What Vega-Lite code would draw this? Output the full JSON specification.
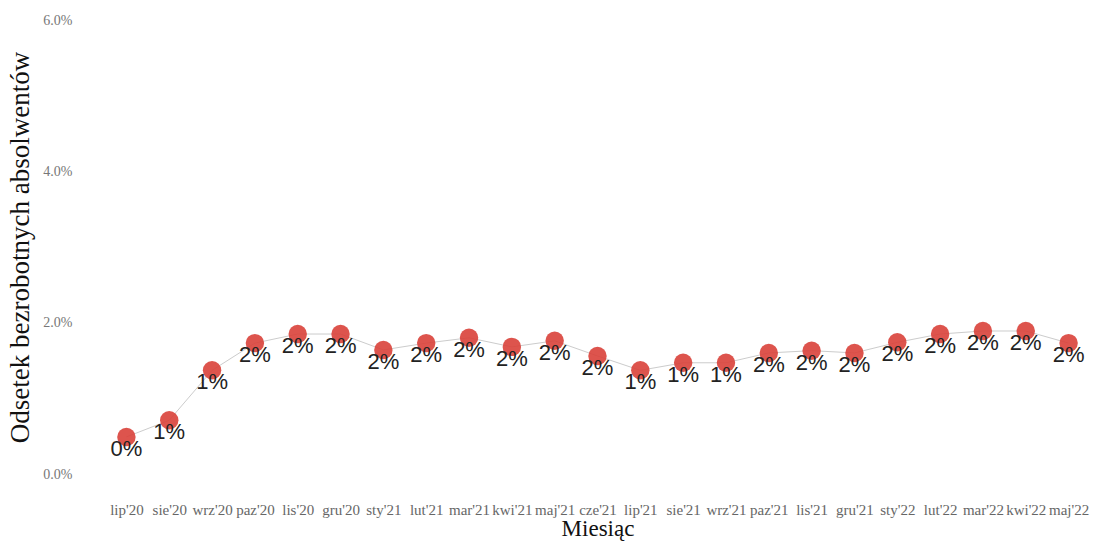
{
  "$schema": "https://vega.github.io/schema/vega-lite/v6.json",
  "width": 985,
  "height": 454,
  "autosize": {"type": "none"},
  "padding": {"left": 105, "top": 20, "right": 3, "bottom": 67},
  "background": "white",
  "config": {"view": {"stroke": null}},
  "data": {"values": [
    {"m": "lip'20", "v": 0.0049},
    {"m": "sie'20", "v": 0.0071},
    {"m": "wrz'20", "v": 0.0137},
    {"m": "paz'20", "v": 0.0173},
    {"m": "lis'20", "v": 0.0185},
    {"m": "gru'20", "v": 0.0185},
    {"m": "sty'21", "v": 0.0164},
    {"m": "lut'21", "v": 0.0173},
    {"m": "mar'21", "v": 0.0180},
    {"m": "kwi'21", "v": 0.0168},
    {"m": "maj'21", "v": 0.0176},
    {"m": "cze'21", "v": 0.0156},
    {"m": "lip'21", "v": 0.0137},
    {"m": "sie'21", "v": 0.0147},
    {"m": "wrz'21", "v": 0.0147},
    {"m": "paz'21", "v": 0.0160},
    {"m": "lis'21", "v": 0.0163},
    {"m": "gru'21", "v": 0.0160},
    {"m": "sty'22", "v": 0.0174},
    {"m": "lut'22", "v": 0.0185},
    {"m": "mar'22", "v": 0.0189},
    {"m": "kwi'22", "v": 0.0189},
    {"m": "maj'22", "v": 0.0173}
  ]},
  "encoding": {
    "x": {"field": "m", "type": "ordinal", "sort": null, "scale": {"type": "point", "padding": 0.5},
      "axis": {"title": "Miesiąc", "labelAngle": 0, "domain": false, "ticks": false, "grid": false,
        "labelFont": "Liberation Serif", "labelFontSize": 15, "labelColor": "#666", "labelPadding": 28,
        "labelOverlap": false,
        "titleFont": "Liberation Serif", "titleFontSize": 23, "titleFontWeight": "normal", "titleColor": "#111", "titlePadding": 0}},
    "y": {"field": "v", "type": "quantitative", "scale": {"domain": [0, 0.06]},
      "axis": {"title": "Odsetek bezrobotnych absolwentów", "format": ".1%", "values": [0, 0.02, 0.04, 0.06],
        "domain": false, "ticks": false, "grid": false,
        "labelFont": "Liberation Serif", "labelFontSize": 14, "labelColor": "#777", "labelPadding": 33,
        "titleFont": "Liberation Serif", "titleFontSize": 27, "titleFontWeight": "normal", "titleColor": "#111", "titlePadding": 8}}
  },
  "layer": [
    {"mark": {"type": "line", "color": "#cccccc", "strokeWidth": 1}},
    {"mark": {"type": "circle", "size": 340, "color": "#d9413a", "opacity": 0.9}},
    {"mark": {"type": "text", "dy": 12, "font": "Liberation Sans", "fontSize": 22, "color": "#222"},
      "encoding": {"text": {"field": "v", "type": "quantitative", "format": ".0%"}}}
  ]
}
